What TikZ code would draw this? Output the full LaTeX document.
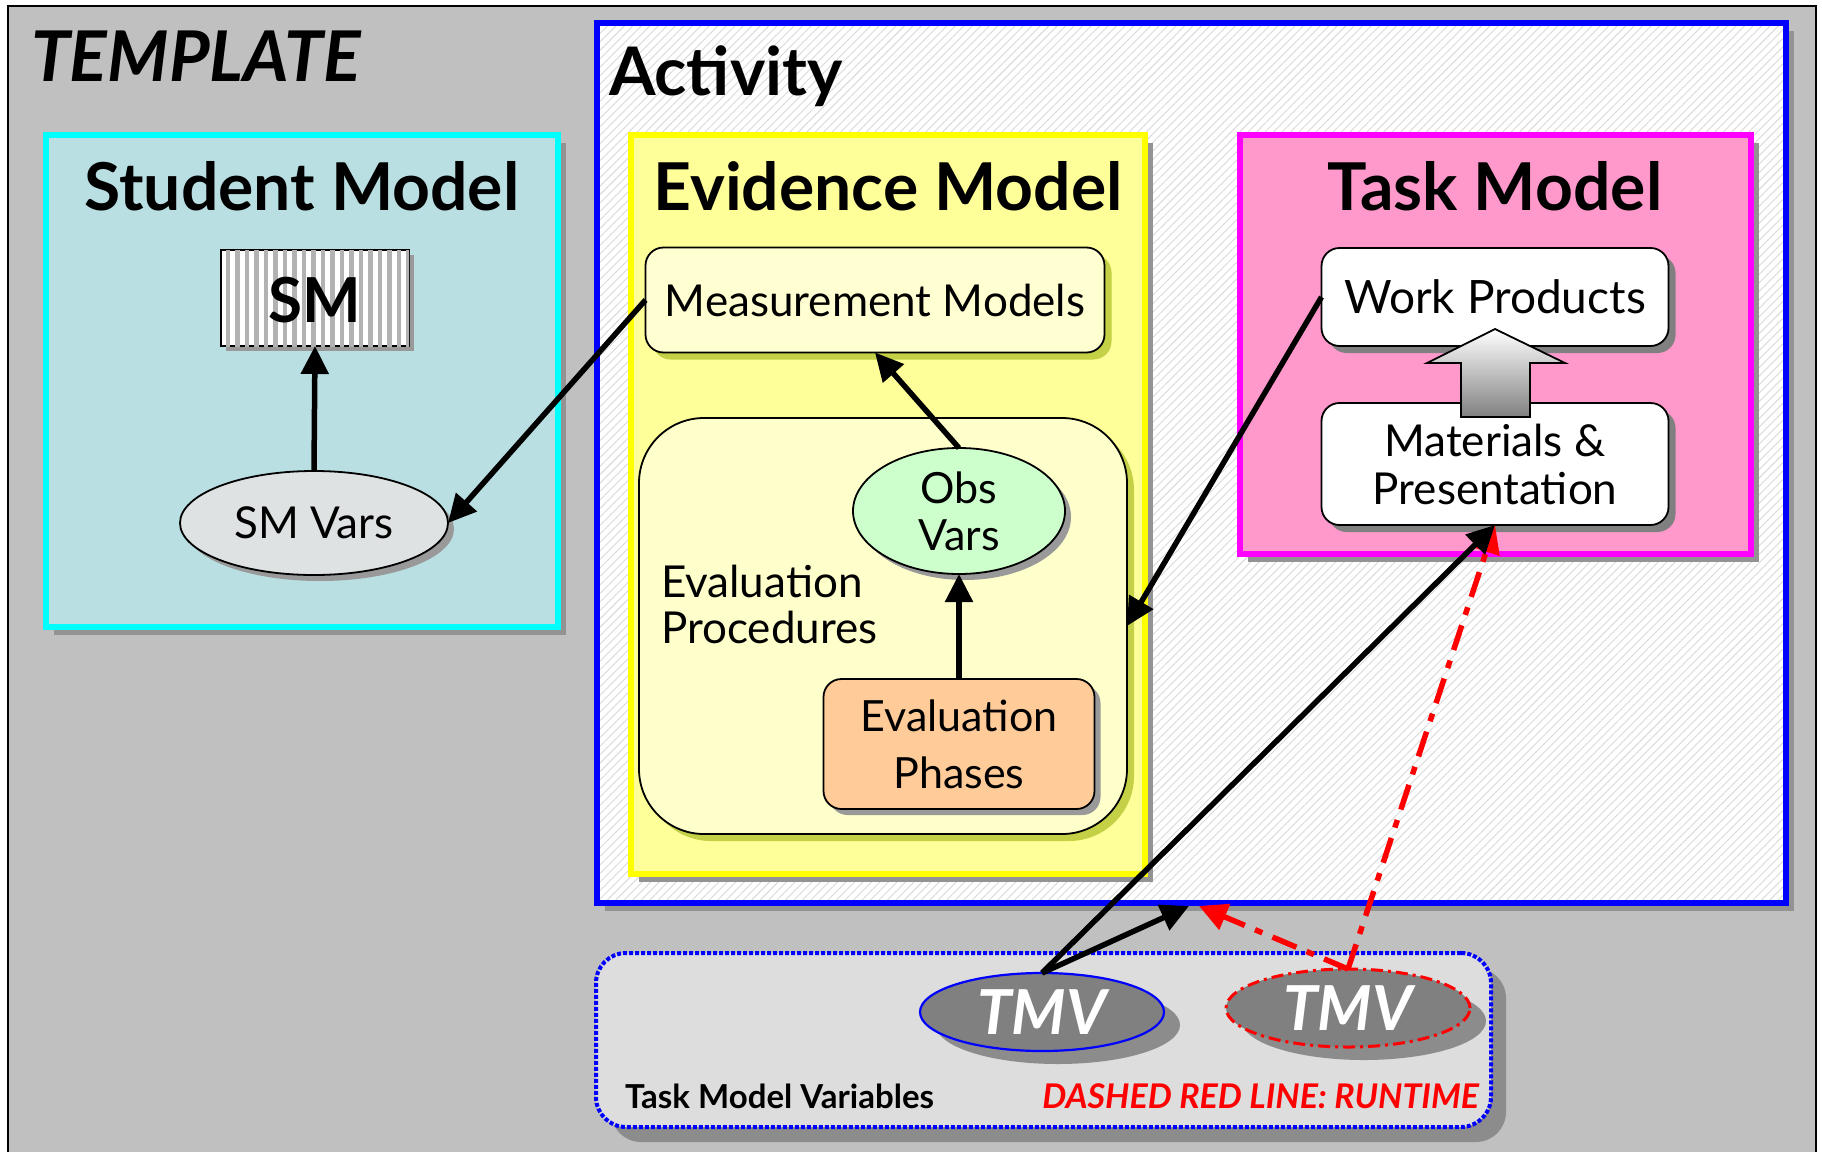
\documentclass[tikz,border=0pt]{standalone}
\usepackage{fontspec}
\setmainfont{Lato}
\usetikzlibrary{shadows,patterns.meta,arrows.meta,shapes.geometric}
\definecolor{bggray}{RGB}{192,192,192}
\definecolor{smblue}{RGB}{185,223,227}
\definecolor{emyellow}{RGB}{255,255,153}
\definecolor{mmfill}{RGB}{255,255,210}
\definecolor{epfill}{RGB}{255,255,204}
\definecolor{obsgreen}{RGB}{204,255,204}
\definecolor{phorange}{RGB}{255,204,153}
\definecolor{tmpink}{RGB}{255,153,204}
\definecolor{yshadow}{RGB}{196,208,70}
\definecolor{tmvbox}{RGB}{221,221,221}
\definecolor{smvfill}{RGB}{222,226,227}
\definecolor{tmvgray}{RGB}{128,128,128}
\definecolor{pcyan}{RGB}{0,255,255}
\definecolor{pyellow}{RGB}{255,255,0}
\definecolor{pmagenta}{RGB}{255,0,255}
\definecolor{pblue}{RGB}{0,0,255}
\definecolor{pred}{RGB}{255,0,0}
\begin{document}
\begin{tikzpicture}[x=1pt,y=-1pt,
  every node/.style={inner sep=0pt, outer sep=0pt},
  gshadow/.style={drop shadow={shadow xshift=8pt, shadow yshift=-8pt, fill=gray!85, opacity=1}},
  dshadow/.style={drop shadow={shadow xshift=7pt, shadow yshift=-7pt, fill=gray, opacity=1}},
  yshad/.style={drop shadow={shadow xshift=7pt, shadow yshift=-7pt, fill=yshadow, opacity=1}},
  container/.style={line width=6pt, anchor=north west},
  title/.style={font=\fontsize{66}{72}\selectfont\bfseries, anchor=base},
  inbox/.style={draw, line width=1.8pt, rounded corners=18pt},
  conn/.style={line width=5.5pt, -{Triangle[length=28pt,width=27pt]}},
  runtime/.style={line width=5.5pt, pred, dash pattern=on 26pt off 11pt on 8pt off 11pt, -{Triangle[length=28pt,width=27pt]}},
]
\useasboundingbox (0,0) rectangle (1822,1151);
\clip (0,0) rectangle (1822,1151);
\fill[white] (0,0) rectangle (1822,1151);
% outer template frame
\node[draw=black, line width=2pt, fill=bggray, anchor=north west, minimum width=1808, minimum height=1200] (template) at (8,6) {};
\node[anchor=base west, font=\fontsize{70}{76}\selectfont\bfseries\itshape] (templatetitle) at (31,81) {TEMPLATE};

% Student model
\node[container, draw=pcyan, fill=smblue, gshadow, minimum width=512, minimum height=492] (student) at (46,135) {};
\node[title] (studenttitle) at (302,210) {Student Model};
\node[draw, line width=1.8pt, fill=white, minimum width=188, minimum height=96,
      postaction={pattern={Lines[angle=90,distance=9.5pt,line width=4.5pt]}, pattern color=gray!60},
      drop shadow={shadow xshift=5pt, shadow yshift=-5pt, fill=gray!80, opacity=1}] (smbox) at (315,298) {};
\node[font=\fontsize{62}{66}\selectfont\bfseries] (sm) at (315,300) {SM};
\node[ellipse, draw, line width=1.8pt, fill=smvfill, minimum width=268, minimum height=104,
      drop shadow={shadow xshift=6pt, shadow yshift=-6pt, fill=gray!80, opacity=1},
      font=\fontsize{44}{48}\selectfont] (smvars) at (314,523) {SM Vars};

% Activity
\node[container, draw=pblue, gshadow, minimum width=1189, minimum height=880,
      preaction={fill=white}, pattern={Lines[angle=45,distance=6pt,line width=0.9pt]}, pattern color=gray!30] (activity) at (597,23) {};
\node[anchor=base west, font=\fontsize{67}{72}\selectfont\bfseries] (activitytitle) at (609,95) {Activity};

% Evidence model
\node[container, draw=pyellow, fill=emyellow, gshadow, minimum width=514, minimum height=739] (evidence) at (631,135) {};
\node[title] (evidencetitle) at (888,210) {Evidence Model};
\node[inbox, fill=mmfill, yshad, minimum width=459, minimum height=105,
      font=\fontsize{44}{48}\selectfont] (mm) at (875,300) {Measurement Models};
\node[draw, line width=1.8pt, rounded corners=65pt, fill=epfill, yshad, anchor=north west,
      minimum width=488, minimum height=416] (evalproc) at (639,418) {};
\node[anchor=base west, align=left, font=\fontsize{44}{46}\selectfont] (evalproctext) at (661,643) {Evaluation\\Procedures};
\node[ellipse, draw, line width=1.8pt, fill=obsgreen, minimum width=212, minimum height=126,
      drop shadow={shadow xshift=6pt, shadow yshift=-6pt, fill=gray!80, opacity=1},
      align=center, font=\fontsize{43}{47}\selectfont] (obs) at (959,511) {Obs\\Vars};
\node[inbox, fill=phorange, drop shadow={shadow xshift=6pt, shadow yshift=-6pt, fill=gray!80, opacity=1},
      minimum width=271, minimum height=130, align=center, font=\fontsize{43}{57}\selectfont] (phases) at (959,744) {Evaluation\\Phases};

% Task model
\node[container, draw=pmagenta, fill=tmpink, gshadow, minimum width=511, minimum height=419] (task) at (1240,135) {};
\node[title] (tasktitle) at (1495,210) {Task Model};
\node[inbox, fill=white, dshadow, minimum width=347, minimum height=98,
      font=\fontsize{46}{50}\selectfont] (wp) at (1495,297) {Work Products};
\node[inbox, fill=white, dshadow, minimum width=347, minimum height=122, align=center,
      font=\fontsize{44}{48}\selectfont] (mat) at (1495,464) {Materials \&\\Presentation};
\draw[line width=1.8pt, top color=white, bottom color=tmvgray]
  (1461,417) -- (1461,363) -- (1427,363) -- (1495,329) -- (1565,363) -- (1530,363) -- (1530,417) -- cycle;

% Task model variables
\node[draw=pblue, line width=4pt, dotted, rounded corners=30pt, fill=tmvbox, anchor=north west,
      drop shadow={shadow xshift=15pt, shadow yshift=-15pt, fill=gray!90, opacity=1},
      minimum width=895, minimum height=174] (tmvbox) at (596,953) {};
\node[ellipse, draw=pblue, line width=2.2pt, fill=tmvgray, minimum width=244, minimum height=78,
      drop shadow={shadow xshift=16pt, shadow yshift=-13pt, fill=gray!90, opacity=1},
      text=white, font=\fontsize{62}{66}\selectfont\bfseries\itshape] (tmv1) at (1042,1012) {TMV};
\node[ellipse, draw=pred, line width=3pt, dash pattern=on 12pt off 5pt on 3pt off 5pt, fill=tmvgray, minimum width=244, minimum height=78,
      drop shadow={shadow xshift=16pt, shadow yshift=-13pt, fill=gray!90, opacity=1},
      text=white, font=\fontsize{62}{66}\selectfont\bfseries\itshape] (tmv2) at (1348,1008) {TMV};
\node[anchor=base west, font=\fontsize{33}{36}\selectfont\bfseries] (tmvlabel) at (625,1108) {Task Model Variables};
\node[anchor=base east, text=pred, font=\fontsize{34}{37}\selectfont\bfseries\itshape] (runtimelabel) at (1479,1108) {DASHED RED LINE: RUNTIME};

% connectors
\coordinate (actbot1) at (1189,906);
\coordinate (actbot2) at (1199,906);
\draw[conn] (smvars.north) -- (smbox.south);
\draw[conn] (mm.west) -- (smvars.east);
\draw[conn] (obs.north) -- (mm.south);
\draw[conn] (phases.north) -- (obs.south);
\draw[conn] (wp.west) -- (evalproc.east);
\draw[runtime] (tmv2.north) -- (actbot2);
\draw[runtime] (tmv2.north) -- (mat.south);
\draw[conn] (tmv1.north) -- (mat.south);
\draw[conn] (tmv1.north) -- (actbot1);
\end{tikzpicture}
\end{document}
